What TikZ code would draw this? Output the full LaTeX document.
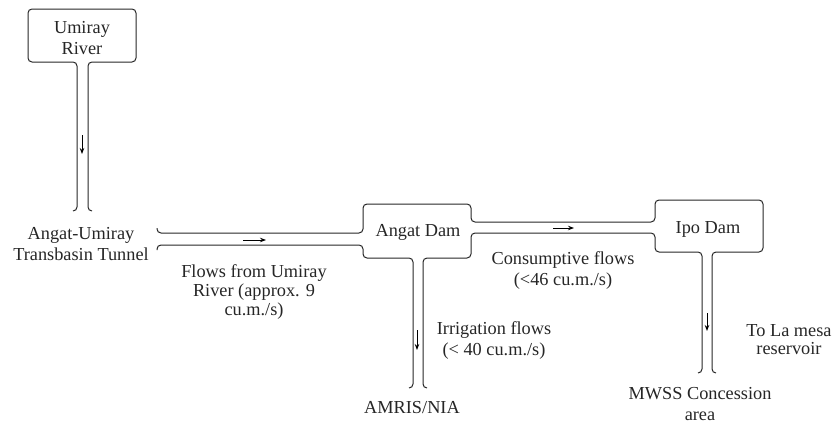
\documentclass[tikz,border=0pt]{standalone}
\usepackage{fontspec}
\setmainfont{Liberation Serif}
\usetikzlibrary{arrows.meta}
\begin{document}
\begin{tikzpicture}[x=1pt,y=-1pt,
  pipe/.style={line width=1pt, draw=black!85, rounded corners=4pt},
  flow/.style={line width=1pt, draw=black, -{Stealth[length=6pt,width=4.5pt]}},
  lbl/.style={font=\fontsize{18.3}{21}\selectfont, align=center, inner sep=0pt, text=black!85}]
\useasboundingbox (0,0) rectangle (835,423);

% Umiray River box with pipe
\draw[pipe] (73,211) -- (77,211) -- (77,62) -- (28,62) -- (28,9) -- (136,9) -- (136,62) -- (88,62) -- (88,211) -- (92,211);

% upper line: tunnel -> Angat -> Ipo -> down
\draw[pipe] (157,228) -- (157,233) -- (363,233) -- (363,204) -- (471,204) -- (471,222) -- (655,222) -- (655,200) -- (763,200) -- (763,252) -- (712,252) -- (712,373) -- (716,373);
% lower tunnel line -> Angat -> down
\draw[pipe] (157,250) -- (157,245) -- (363,245) -- (363,258) -- (413,258) -- (413,388) -- (409,388);
% Angat lower right -> Ipo lower left -> down
\draw[pipe] (427,388) -- (423,388) -- (423,258) -- (471,258) -- (471,233) -- (655,233) -- (655,252) -- (702,252) -- (702,373) -- (698,373);

% flow arrows
\draw[flow] (82,135) -- (82,154);
\draw[flow] (243,240) -- (266,240);
\draw[flow] (417,330) -- (417,350);
\draw[flow] (553,228) -- (574,228);
\draw[flow] (707,313) -- (707,331);

% labels
\node[lbl] (umiray) at (82,38) {Umiray\\River};
\node[lbl] (tunnel) at (81,244) {Angat-Umiray\\Transbasin Tunnel};
\node[lbl] (angat) at (418,232) {Angat Dam};
\node[lbl] (ipo) at (708,229) {Ipo Dam};
\node[lbl, font=\fontsize{18.3}{19}\selectfont] (flowsU) at (254,292) {Flows from Umiray\\River (approx. 9\\cu.m./s)};
\node[lbl] (cons) at (563,271) {Consumptive flows\\(<46 cu.m./s)};
\node[lbl] (irr) at (494,341) {Irrigation flows\\(< 40 cu.m./s)};
\node[lbl, font=\fontsize{18.3}{18}\selectfont] (lamesa) at (789,340) {To La mesa\\reservoir};
\node[lbl] (amris) at (412,408) {AMRIS/NIA};
\node[lbl] (mwss) at (700,404) {MWSS Concession\\area};
\end{tikzpicture}
\end{document}
